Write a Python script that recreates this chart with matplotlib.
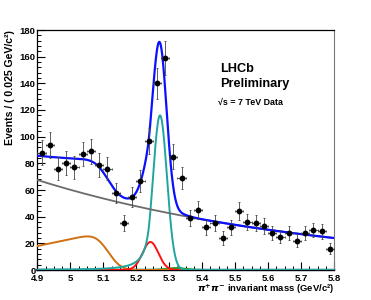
import math
import numpy as np
import matplotlib
matplotlib.use("Agg")
import matplotlib.pyplot as plt
from matplotlib.ticker import MultipleLocator

# binned data, 0.025 GeV bins from 4.9 to 5.8
bin_lo = 4.9
bin_w = 0.025
counts = [88, 94, 76, 80, 77, 87, 89, 79, 76, 58,
          35, 55, 67, 97, 140, 159, 85, 69, 39, 45,
          32, 35, 24, 32, 44, 36, 35, 33, 28, 25,
          28, 22, 28, 30, 29, 16]

# fit components (parameters)
comb_norm, comb_slope = 67.5, -1.15          # exponential background (grey)
prb_base, prb_rise, prb_edge, prb_res = 18.0, 52.0, 5.112, 0.031  # partially reco (orange)
red_amp, red_mean, red_sig = 21.0, 5.243, 0.024    # misid peak (red)
sig_amp, sig_mean, sig_sig = 116.0, 5.272, 0.021   # B -> pi pi signal (teal)
cb_alpha, cb_n = 1.5, 2.0
grn_amp, grn_mean, grn_sig = 1.5, 5.32, 0.03        # small 3-body (green)

plt.rcParams['font.family'] = ['Liberation Sans', 'DejaVu Sans']
plt.rcParams['font.weight'] = 'bold'

erfc = np.vectorize(math.erfc)


def crystal_ball(x, amp, mean, sig, alpha, n):
    t = (x - mean) / sig
    a = (n / alpha) ** n * np.exp(-alpha ** 2 / 2)
    b = n / alpha - alpha
    core = np.exp(-0.5 * t ** 2)
    tail = a * np.abs(b - t) ** (-n)
    return amp * np.where(t > -alpha, core, tail)


x = np.linspace(4.9, 5.8, 800)
comb = comb_norm * np.exp(comb_slope * (x - 4.9))
prb = (prb_base + prb_rise * (x - 4.9)) * 0.5 * erfc((x - prb_edge) / (prb_res * np.sqrt(2)))
red = red_amp * np.exp(-0.5 * ((x - red_mean) / red_sig) ** 2)
sig = crystal_ball(x, sig_amp, sig_mean, sig_sig, cb_alpha, cb_n)
grn = grn_amp * np.exp(-0.5 * ((x - grn_mean) / grn_sig) ** 2)
total = comb + prb + red + sig + grn

centers = bin_lo + bin_w * (np.arange(len(counts)) + 0.5)
yerr = np.sqrt(counts)

fig = plt.figure(figsize=(3.71, 3.0), dpi=100)
ax = fig.add_axes([0.1008, 0.1, 0.7995, 0.8])

ax.plot(x, np.zeros_like(x), color='#4a3a8c', lw=1.6, clip_on=False, zorder=2)
ax.plot(x, np.zeros_like(x) + 0.6, color='#1fa5a0', lw=1.0, clip_on=False, zorder=2)
ax.plot(x, grn, color='#2e9a2e', lw=1.4, zorder=3)
ax.plot(x, prb, color='#d07010', lw=1.4, zorder=3)
ax.plot(x, red, color='#ff1010', lw=1.4, zorder=3)
ax.plot(x, sig, color='#1fa5a0', lw=1.4, zorder=3)
ax.plot(x, comb, color='#6b6b6b', lw=1.3, zorder=3)
ax.plot(x, total, color='#0a10ff', lw=1.6, zorder=4)

ax.errorbar(centers, counts, yerr=yerr, xerr=bin_w / 2, fmt='o', color='black',
            ms=3.2, ecolor='#444444', elinewidth=0.6, capsize=1.0, capthick=0.6, zorder=5)

ax.set_xlim(4.9, 5.8)
ax.set_ylim(0, 180)
ax.xaxis.set_major_locator(MultipleLocator(0.1))
ax.xaxis.set_minor_locator(MultipleLocator(0.025))
ax.yaxis.set_major_locator(MultipleLocator(20))
ax.yaxis.set_minor_locator(MultipleLocator(4))
ax.set_xticks(np.arange(4.9, 5.81, 0.1))
ax.set_xticklabels(['4.9', '5', '5.1', '5.2', '5.3', '5.4', '5.5', '5.6', '5.7', '5.8'])
ax.tick_params(which='both', direction='in', top=False, right=False, labelsize=6.8)
ax.tick_params(axis='x', pad=3.0)
ax.tick_params(axis='y', pad=1.2)
ax.tick_params(which='major', length=5.5, width=0.8)
ax.tick_params(which='minor', length=2.8, width=0.7)
ax.spines['right'].set_color('#777777')
for s in ['left', 'bottom', 'top']:
    ax.spines[s].set_linewidth(0.9)

fig.text(0.027, 0.9, 'Events / ( 0.025 GeV/c²)', rotation=90, ha='center', va='top',
         fontsize=7.6, fontweight='bold')
fig.text(0.9003, 0.028, r'$\pi^{+}\pi^{-}$ invariant mass (GeV/c²)', ha='right',
         va='baseline', fontsize=6.8, fontweight='bold')

fig.text(220 / 371, 1 - 72 / 300, 'LHCb', fontsize=9.2, fontweight='bold', va='baseline')
fig.text(220 / 371, 1 - 87 / 300, 'Preliminary', fontsize=9.2, fontweight='bold', va='baseline')
fig.text(218 / 371, 1 - 105 / 300, '√s = 7 TeV Data', fontsize=6.4, fontweight='bold',
         va='baseline')

fig.savefig('out.png', dpi=100)
